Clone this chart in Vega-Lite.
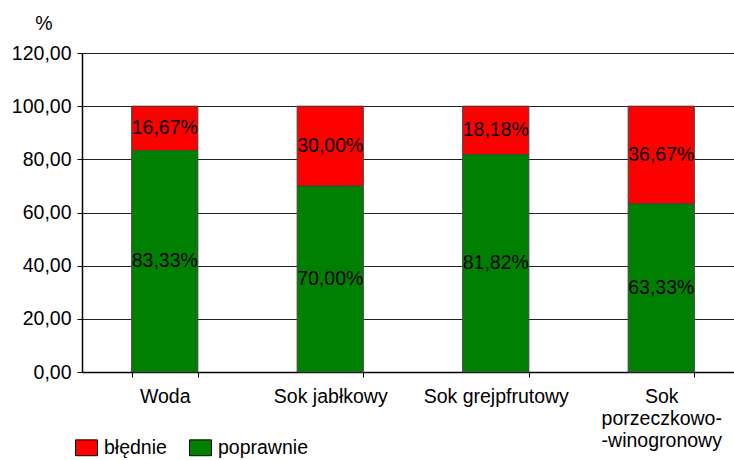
{
  "$schema": "https://vega.github.io/schema/vega-lite/v6.json",
  "autosize": "none",
  "width": 662,
  "height": 319,
  "padding": {"left": 82, "top": 53, "right": 10, "bottom": 88},
  "background": "white",
  "data": {
    "values": [
      {"napoj": "Woda", "typ": "poprawnie", "wartosc": 83.33},
      {"napoj": "Woda", "typ": "błędnie", "wartosc": 16.67},
      {"napoj": "Sok jabłkowy", "typ": "poprawnie", "wartosc": 70.00},
      {"napoj": "Sok jabłkowy", "typ": "błędnie", "wartosc": 30.00},
      {"napoj": "Sok grejpfrutowy", "typ": "poprawnie", "wartosc": 81.82},
      {"napoj": "Sok grejpfrutowy", "typ": "błędnie", "wartosc": 18.18},
      {"napoj": "Sok porzeczkowo--winogronowy", "typ": "poprawnie", "wartosc": 63.33},
      {"napoj": "Sok porzeczkowo--winogronowy", "typ": "błędnie", "wartosc": 36.67}
    ]
  },
  "transform": [
    {"calculate": "replace(format(datum.wartosc, '.2f'), '.', ',') + '%'", "as": "etykieta"}
  ],
  "encoding": {
    "x": {
      "field": "napoj",
      "type": "nominal",
      "sort": null,
      "scale": {"paddingInner": 0.6, "paddingOuter": 0.3},
      "axis": {
        "title": null,
        "labelAngle": 0,
        "labelFont": "Liberation Sans",
        "labelFontSize": 19.5,
        "labelColor": "black",
        "labelPadding": 10,
        "labelLineHeight": 22,
        "labelBaseline": "top",
        "labelExpr": "datum.label == 'Sok porzeczkowo--winogronowy' ? ['Sok', 'porzeczkowo-', '-winogronowy'] : datum.label",
        "tickBand": "extent",
        "tickSize": 5,
        "tickColor": "black",
        "domainColor": "black",
        "domainWidth": 1.5,
        "grid": false
      }
    },
    "y": {
      "field": "wartosc",
      "type": "quantitative",
      "stack": "zero",
      "scale": {"domain": [0, 120], "nice": false},
      "axis": {
        "values": [0, 20, 40, 60, 80, 100, 120],
        "title": "%",
        "titleAngle": 0,
        "titleX": -38.5,
        "titleY": -24,
        "titleAlign": "center",
        "titleBaseline": "alphabetic",
        "titleFont": "Liberation Sans",
        "titleFontSize": 19.5,
        "titleFontWeight": "normal",
        "titleColor": "black",
        "labelFont": "Liberation Sans",
        "labelFontSize": 19.5,
        "labelColor": "black",
        "labelPadding": 6,
        "labelExpr": "replace(format(datum.value, '.2f'), '.', ',')",
        "tickSize": 5,
        "tickColor": "black",
        "domainColor": "black",
        "domainWidth": 1.5,
        "grid": true,
        "gridColor": "#222222",
        "gridWidth": 1
      }
    },
    "order": {"field": "typ", "sort": "descending"}
  },
  "layer": [
    {
      "mark": {"type": "bar", "stroke": "#444444", "strokeWidth": 1},
      "encoding": {
        "color": {
          "field": "typ",
          "type": "nominal",
          "scale": {"domain": ["błędnie", "poprawnie"], "range": ["#FF0000", "#008000"]},
          "legend": {
            "title": null,
            "orient": "none",
            "direction": "horizontal",
            "legendX": -7,
            "legendY": 383,
            "symbolType": "M-1,-0.72L1,-0.72L1,0.72L-1,0.72Z",
            "symbolSize": 484,
            "symbolStrokeColor": "black",
            "symbolStrokeWidth": 1,
            "labelFont": "Liberation Sans",
            "labelFontSize": 19.5,
            "labelColor": "black",
            "labelOffset": 6,
            "columnPadding": 20,
            "padding": 0
          }
        }
      }
    },
    {
      "mark": {"type": "text", "font": "Liberation Sans", "fontSize": 19.5, "color": "black", "baseline": "middle", "align": "center"},
      "encoding": {
        "y": {"field": "wartosc", "type": "quantitative", "stack": "zero", "bandPosition": 0.5},
        "text": {"field": "etykieta", "type": "nominal"}
      }
    }
  ],
  "config": {
    "view": {"stroke": null}
  }
}
